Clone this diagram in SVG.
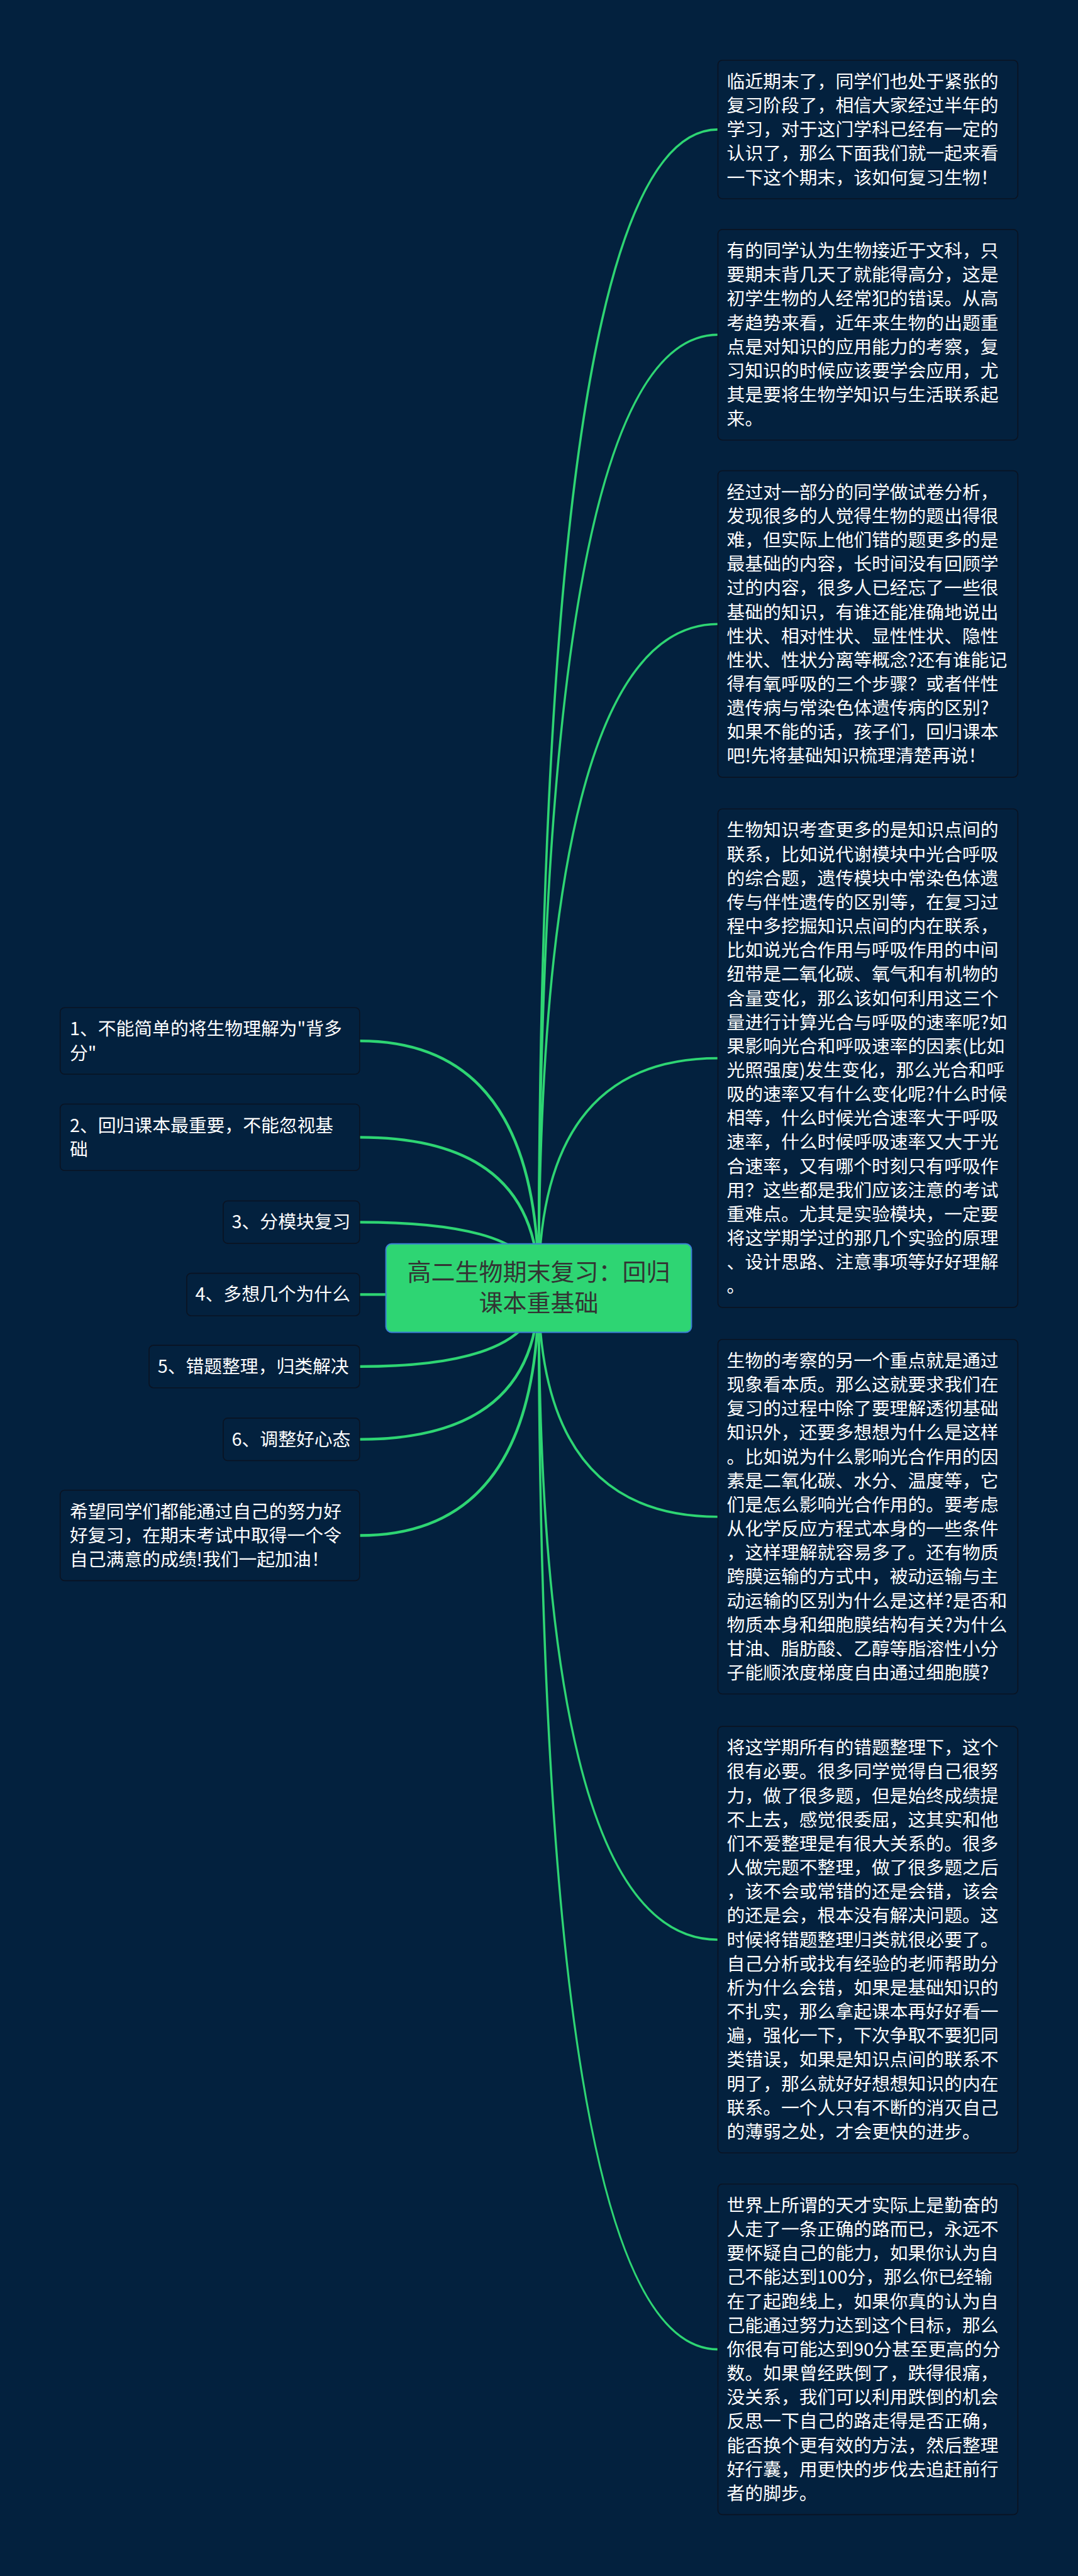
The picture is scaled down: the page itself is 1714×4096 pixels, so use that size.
<svg xmlns="http://www.w3.org/2000/svg" width="1714" height="4096" viewBox="0 0 1714 4096">
<style>
.nb{fill:#03213e;stroke:#0a1322;stroke-width:1.6}
.t{font-family:"Noto Sans CJK SC","Noto Sans",sans-serif;font-size:28.8px;fill:#ffffff}
.ct{font-family:"Noto Sans CJK SC","Noto Sans",sans-serif;font-size:38px;fill:#333333}
.lk{fill:none;stroke:#2ed573;stroke-width:3.6;stroke-linecap:round}
.lkl{fill:none;stroke:#2ed573;stroke-width:4.3;stroke-linecap:round}
</style>
<rect x="0" y="0" width="1714" height="4096" fill="#03213e"/>
<g id="connectors">
<path class="lk" d="M856.5 2048 Q856.5 205.9 1141.5 205.9"/>
<path class="lk" d="M856.5 2048 Q856.5 532.3 1141.5 532.3"/>
<path class="lk" d="M856.5 2048 Q856.5 992.2 1141.5 992.2"/>
<path class="lk" d="M856.5 2048 Q856.5 1682.6 1141.5 1682.6"/>
<path class="lk" d="M856.5 2048 Q856.5 2411.7 1141.5 2411.7"/>
<path class="lk" d="M856.5 2048 Q856.5 3084.2 1141.5 3084.2"/>
<path class="lk" d="M856.5 2048 Q856.5 3735.6 1141.5 3735.6"/>
<path class="lkl" d="M856.5 2048 Q856.5 1655.1 571.8 1655.1"/>
<path class="lkl" d="M856.5 2048 Q856.5 1808.4 571.8 1808.4"/>
<path class="lkl" d="M856.5 2048 Q856.5 1943.3 571.8 1943.3"/>
<path class="lkl" d="M856.5 2048 Q856.5 2058.4 571.8 2058.4"/>
<path class="lkl" d="M856.5 2048 Q856.5 2172.9 571.8 2172.9"/>
<path class="lkl" d="M856.5 2048 Q856.5 2288.7 571.8 2288.7"/>
<path class="lkl" d="M856.5 2048 Q856.5 2441.5 571.8 2441.5"/>
</g>
<g id="center">
<rect x="613.6" y="1977.8" width="485.8" height="140.6" rx="9" fill="#2ed573" stroke="#3b7fd4" stroke-width="2"/>
<text class="ct" text-anchor="middle"><tspan x="856.5" y="2036">高二生物期末复习：回归</tspan><tspan x="856.5" y="2085">课本重基础</tspan></text>
</g>
<g id="r1">
<rect class="nb" x="1141.5" y="95.7" width="476.8" height="220.3" rx="7"/>
<text class="t"><tspan x="1155.6" y="139.9">临近期末了，同学们也处于紧张的</tspan><tspan x="1155.6" dy="38.16">复习阶段了，相信大家经过半年的</tspan><tspan x="1155.6" dy="38.16">学习，对于这门学科已经有一定的</tspan><tspan x="1155.6" dy="38.16">认识了，那么下面我们就一起来看</tspan><tspan x="1155.6" dy="38.16">一下这个期末，该如何复习生物！</tspan></text>
</g>
<g id="r2">
<rect class="nb" x="1141.5" y="364.9" width="476.8" height="334.8" rx="7"/>
<text class="t"><tspan x="1155.6" y="409.1">有的同学认为生物接近于文科，只</tspan><tspan x="1155.6" dy="38.16">要期末背几天了就能得高分，这是</tspan><tspan x="1155.6" dy="38.16">初学生物的人经常犯的错误。从高</tspan><tspan x="1155.6" dy="38.16">考趋势来看，近年来生物的出题重</tspan><tspan x="1155.6" dy="38.16">点是对知识的应用能力的考察，复</tspan><tspan x="1155.6" dy="38.16">习知识的时候应该要学会应用，尤</tspan><tspan x="1155.6" dy="38.16">其是要将生物学知识与生活联系起</tspan><tspan x="1155.6" dy="38.16">来。</tspan></text>
</g>
<g id="r3">
<rect class="nb" x="1141.5" y="748.5" width="476.8" height="487.4" rx="7"/>
<text class="t"><tspan x="1155.6" y="792.7">经过对一部分的同学做试卷分析，</tspan><tspan x="1155.6" dy="38.16">发现很多的人觉得生物的题出得很</tspan><tspan x="1155.6" dy="38.16">难，但实际上他们错的题更多的是</tspan><tspan x="1155.6" dy="38.16">最基础的内容，长时间没有回顾学</tspan><tspan x="1155.6" dy="38.16">过的内容，很多人已经忘了一些很</tspan><tspan x="1155.6" dy="38.16">基础的知识，有谁还能准确地说出</tspan><tspan x="1155.6" dy="38.16">性状、相对性状、显性性状、隐性</tspan><tspan x="1155.6" dy="38.16">性状、性状分离等概念?还有谁能记</tspan><tspan x="1155.6" dy="38.16">得有氧呼吸的三个步骤？或者伴性</tspan><tspan x="1155.6" dy="38.16">遗传病与常染色体遗传病的区别?</tspan><tspan x="1155.6" dy="38.16">如果不能的话，孩子们，回归课本</tspan><tspan x="1155.6" dy="38.16">吧!先将基础知识梳理清楚再说！</tspan></text>
</g>
<g id="r4">
<rect class="nb" x="1141.5" y="1286.2" width="476.8" height="792.7" rx="7"/>
<text class="t"><tspan x="1155.6" y="1330.4">生物知识考查更多的是知识点间的</tspan><tspan x="1155.6" dy="38.16">联系，比如说代谢模块中光合呼吸</tspan><tspan x="1155.6" dy="38.16">的综合题，遗传模块中常染色体遗</tspan><tspan x="1155.6" dy="38.16">传与伴性遗传的区别等，在复习过</tspan><tspan x="1155.6" dy="38.16">程中多挖掘知识点间的内在联系，</tspan><tspan x="1155.6" dy="38.16">比如说光合作用与呼吸作用的中间</tspan><tspan x="1155.6" dy="38.16">纽带是二氧化碳、氧气和有机物的</tspan><tspan x="1155.6" dy="38.16">含量变化，那么该如何利用这三个</tspan><tspan x="1155.6" dy="38.16">量进行计算光合与呼吸的速率呢?如</tspan><tspan x="1155.6" dy="38.16">果影响光合和呼吸速率的因素(比如</tspan><tspan x="1155.6" dy="38.16">光照强度)发生变化，那么光合和呼</tspan><tspan x="1155.6" dy="38.16">吸的速率又有什么变化呢?什么时候</tspan><tspan x="1155.6" dy="38.16">相等，什么时候光合速率大于呼吸</tspan><tspan x="1155.6" dy="38.16">速率，什么时候呼吸速率又大于光</tspan><tspan x="1155.6" dy="38.16">合速率，又有哪个时刻只有呼吸作</tspan><tspan x="1155.6" dy="38.16">用？这些都是我们应该注意的考试</tspan><tspan x="1155.6" dy="38.16">重难点。尤其是实验模块，一定要</tspan><tspan x="1155.6" dy="38.16">将这学期学过的那几个实验的原理</tspan><tspan x="1155.6" dy="38.16">、设计思路、注意事项等好好理解</tspan><tspan x="1155.6" dy="38.16">。</tspan></text>
</g>
<g id="r5">
<rect class="nb" x="1141.5" y="2129.8" width="476.8" height="563.7" rx="7"/>
<text class="t"><tspan x="1155.6" y="2174">生物的考察的另一个重点就是通过</tspan><tspan x="1155.6" dy="38.16">现象看本质。那么这就要求我们在</tspan><tspan x="1155.6" dy="38.16">复习的过程中除了要理解透彻基础</tspan><tspan x="1155.6" dy="38.16">知识外，还要多想想为什么是这样</tspan><tspan x="1155.6" dy="38.16">。比如说为什么影响光合作用的因</tspan><tspan x="1155.6" dy="38.16">素是二氧化碳、水分、温度等，它</tspan><tspan x="1155.6" dy="38.16">们是怎么影响光合作用的。要考虑</tspan><tspan x="1155.6" dy="38.16">从化学反应方程式本身的一些条件</tspan><tspan x="1155.6" dy="38.16">，这样理解就容易多了。还有物质</tspan><tspan x="1155.6" dy="38.16">跨膜运输的方式中，被动运输与主</tspan><tspan x="1155.6" dy="38.16">动运输的区别为什么是这样?是否和</tspan><tspan x="1155.6" dy="38.16">物质本身和细胞膜结构有关?为什么</tspan><tspan x="1155.6" dy="38.16">甘油、脂肪酸、乙醇等脂溶性小分</tspan><tspan x="1155.6" dy="38.16">子能顺浓度梯度自由通过细胞膜?</tspan></text>
</g>
<g id="r6">
<rect class="nb" x="1141.5" y="2745.1" width="476.8" height="678.2" rx="7"/>
<text class="t"><tspan x="1155.6" y="2789.3">将这学期所有的错题整理下，这个</tspan><tspan x="1155.6" dy="38.16">很有必要。很多同学觉得自己很努</tspan><tspan x="1155.6" dy="38.16">力，做了很多题，但是始终成绩提</tspan><tspan x="1155.6" dy="38.16">不上去，感觉很委屈，这其实和他</tspan><tspan x="1155.6" dy="38.16">们不爱整理是有很大关系的。很多</tspan><tspan x="1155.6" dy="38.16">人做完题不整理，做了很多题之后</tspan><tspan x="1155.6" dy="38.16">，该不会或常错的还是会错，该会</tspan><tspan x="1155.6" dy="38.16">的还是会，根本没有解决问题。这</tspan><tspan x="1155.6" dy="38.16">时候将错题整理归类就很必要了。</tspan><tspan x="1155.6" dy="38.16">自己分析或找有经验的老师帮助分</tspan><tspan x="1155.6" dy="38.16">析为什么会错，如果是基础知识的</tspan><tspan x="1155.6" dy="38.16">不扎实，那么拿起课本再好好看一</tspan><tspan x="1155.6" dy="38.16">遍，强化一下，下次争取不要犯同</tspan><tspan x="1155.6" dy="38.16">类错误，如果是知识点间的联系不</tspan><tspan x="1155.6" dy="38.16">明了，那么就好好想想知识的内在</tspan><tspan x="1155.6" dy="38.16">联系。一个人只有不断的消灭自己</tspan><tspan x="1155.6" dy="38.16">的薄弱之处，才会更快的进步。</tspan></text>
</g>
<g id="r7">
<rect class="nb" x="1141.5" y="3472.8" width="476.8" height="525.6" rx="7"/>
<text class="t"><tspan x="1155.6" y="3517">世界上所谓的天才实际上是勤奋的</tspan><tspan x="1155.6" dy="38.16">人走了一条正确的路而已，永远不</tspan><tspan x="1155.6" dy="38.16">要怀疑自己的能力，如果你认为自</tspan><tspan x="1155.6" dy="38.16">己不能达到100分，那么你已经输</tspan><tspan x="1155.6" dy="38.16">在了起跑线上，如果你真的认为自</tspan><tspan x="1155.6" dy="38.16">己能通过努力达到这个目标，那么</tspan><tspan x="1155.6" dy="38.16">你很有可能达到90分甚至更高的分</tspan><tspan x="1155.6" dy="38.16">数。如果曾经跌倒了，跌得很痛，</tspan><tspan x="1155.6" dy="38.16">没关系，我们可以利用跌倒的机会</tspan><tspan x="1155.6" dy="38.16">反思一下自己的路走得是否正确，</tspan><tspan x="1155.6" dy="38.16">能否换个更有效的方法，然后整理</tspan><tspan x="1155.6" dy="38.16">好行囊，用更快的步伐去追赶前行</tspan><tspan x="1155.6" dy="38.16">者的脚步。</tspan></text>
</g>
<g id="l1">
<rect class="nb" x="95.7" y="1602.2" width="476.1" height="105.8" rx="7"/>
<text class="t"><tspan x="111" y="1646.4">1、不能简单的将生物理解为"背多</tspan><tspan x="111" dy="38.16">分"</tspan></text>
</g>
<g id="l2">
<rect class="nb" x="95.7" y="1755.5" width="476.1" height="105.8" rx="7"/>
<text class="t"><tspan x="111" y="1799.7">2、回归课本最重要，不能忽视基</tspan><tspan x="111" dy="38.16">础</tspan></text>
</g>
<g id="l3">
<rect class="nb" x="354.9" y="1909.5" width="216.9" height="67.6" rx="7"/>
<text class="t" x="368.6" y="1953.2">3、分模块复习</text>
</g>
<g id="l4">
<rect class="nb" x="296.9" y="2024.6" width="274.9" height="67.6" rx="7"/>
<text class="t" x="310.6" y="2068.3">4、多想几个为什么</text>
</g>
<g id="l5">
<rect class="nb" x="237" y="2139.1" width="334.8" height="67.6" rx="7"/>
<text class="t" x="250.7" y="2182.8">5、错题整理，归类解决</text>
</g>
<g id="l6">
<rect class="nb" x="354.9" y="2254.9" width="216.9" height="67.6" rx="7"/>
<text class="t" x="368.6" y="2298.6">6、调整好心态</text>
</g>
<g id="l7">
<rect class="nb" x="95.7" y="2369.5" width="476.1" height="143.9" rx="7"/>
<text class="t"><tspan x="111" y="2413.7">希望同学们都能通过自己的努力好</tspan><tspan x="111" dy="38.16">好复习，在期末考试中取得一个令</tspan><tspan x="111" dy="38.16">自己满意的成绩!我们一起加油！</tspan></text>
</g>
</svg>
